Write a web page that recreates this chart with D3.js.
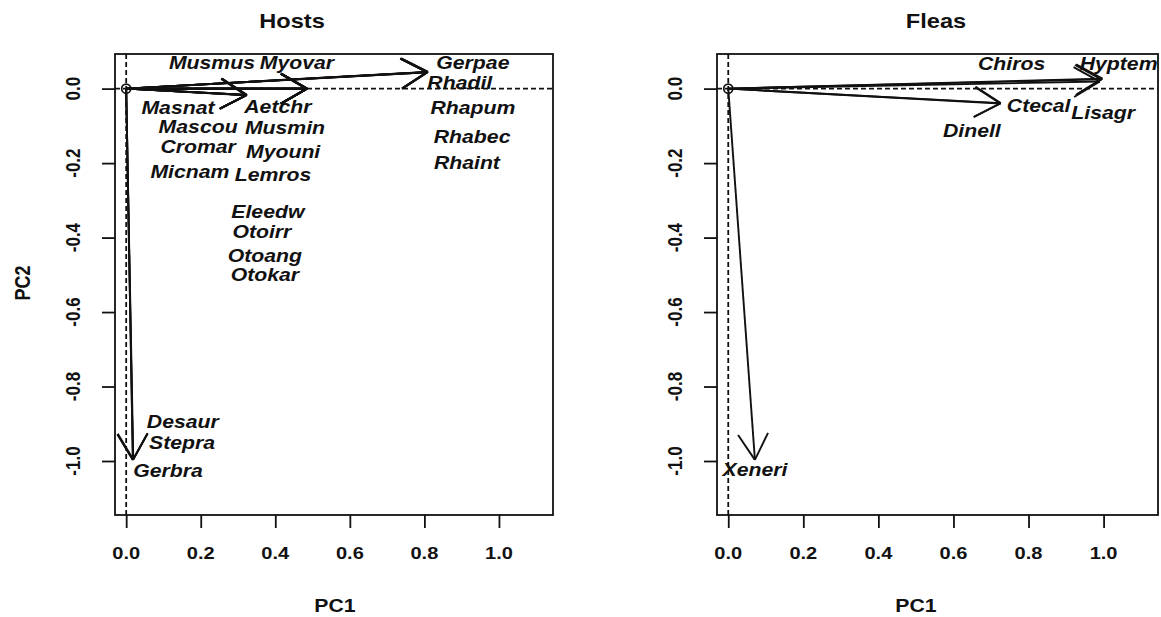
<!DOCTYPE html>
<html>
<head>
<meta charset="utf-8">
<script src="https://cdn.jsdelivr.net/npm/d3@7"></script>
<style>
  body { margin: 0; background: #fff; }
  svg { display: block; font-family: "Liberation Sans", Arial, sans-serif; }
</style>
</head>
<body>
<svg id="chart" width="1161" height="617"></svg>
<script>
// Hosts: arrow tips (loadings) and label positions, in PC units
const hostNames = ["Musmus", "Myovar", "Gerpae", "Rhadil", "Masnat", "Aetchr", "Rhapum", "Mascou",
    "Musmin", "Rhabec", "Cromar", "Myouni", "Rhaint", "Micnam", "Lemros", "Eleedw", "Otoirr",
    "Otoang", "Otokar", "Desaur", "Stepra", "Gerbra"];
const hostPC1 = [0.324, 0.485, 0.81, 0.808, 0.322, 0.484, 0.807, 0.323, 0.485, 0.808, 0.324, 0.485,
    0.807, 0.323, 0.484, 0.485, 0.485, 0.485, 0.485, 0.019, 0.018, 0.018];
const hostPC2 = [-0.017, 0.0, 0.045, 0.044, -0.018, -0.001, 0.044, -0.017, 0.0, 0.045, -0.017, 0.0,
    0.044, -0.017, 0.0, 0.0, 0.0, 0.0, 0.0, -0.996, -0.997, -0.997];
const hostLabelPC1 = [0.23, 0.458, 0.93, 0.895, 0.139, 0.407, 0.93, 0.193, 0.426, 0.928, 0.193, 0.421,
    0.914, 0.171, 0.394, 0.38, 0.364, 0.372, 0.372, 0.152, 0.15, 0.112];
const hostLabelPC2 = [0.069, 0.069, 0.069, 0.015, -0.052, -0.049, -0.052, -0.103, -0.106, -0.13, -0.157,
    -0.17, -0.2, -0.224, -0.232, -0.331, -0.385, -0.45, -0.5, -0.895, -0.952, -1.027];

// Fleas
const fleaNames = ["Chiros", "Hyptem", "Ctecal", "Lisagr", "Dinell", "Xeneri"];
const fleaPC1 = [0.997, 0.994, 0.726, 0.99, 0.725, 0.071];
const fleaPC2 = [0.027, 0.025, -0.039, 0.019, -0.04, -0.997];
const fleaLabelPC1 = [0.755, 1.04, 0.827, 0.999, 0.649, 0.071];
const fleaLabelPC2 = [0.067, 0.067, -0.046, -0.064, -0.113, -1.024];

const xTicks = [0, 0.2, 0.4, 0.6, 0.8, 1.0];
const yTicks = [0, -0.2, -0.4, -0.6, -0.8, -1.0];
const xDomain = [-0.03, 1.145];
const yDomain = [-1.145, 0.093];

const svg = d3.select("#chart");
const sx = 1.18; // the figure is a little wider than tall, text too
const ink = "#111";

function stretchedText(g, x, y, str, size, opts = {}) {
    const t = g.append("text")
        .attr("transform", `translate(${x},${y}) scale(${sx},1)` + (opts.rotate ? " rotate(-90)" : ""))
        .attr("text-anchor", "middle")
        .attr("dy", "0.35em")
        .attr("font-size", size)
        .attr("font-weight", "bold")
        .attr("fill", ink)
        .text(str);
    if (opts.italic) t.attr("font-style", "italic");
    return t;
}

function drawPanel(p) {
    const g = svg.append("g");
    const x = d3.scaleLinear().domain(xDomain).range([p.left, p.right]);
    const y = d3.scaleLinear().domain(yDomain).range([p.bottom, p.top]);

    // axes
    const xAxis = d3.axisBottom(x).tickValues(xTicks).tickSize(13).tickFormat(() => "");
    const yAxis = d3.axisLeft(y).tickValues(yTicks).tickSize(13).tickFormat(() => "");
    const ax = g.append("g").attr("transform", `translate(0,${p.bottom})`).call(xAxis);
    const ay = g.append("g").attr("transform", `translate(${p.left},0)`).call(yAxis);
    [ax, ay].forEach((a) => {
        a.select(".domain").remove();
        a.selectAll("line").attr("stroke", ink).attr("stroke-width", 1.8);
    });
    xTicks.forEach((d) => stretchedText(g, x(d), p.bottom + 38, d.toFixed(1), 17));
    yTicks.forEach((d) => stretchedText(g, p.left - 42, y(d), d.toFixed(1), 17, { rotate: true }));

    // reference lines
    g.append("line")
        .attr("x1", p.left).attr("x2", p.right).attr("y1", y(0)).attr("y2", y(0))
        .attr("stroke", ink).attr("stroke-width", 1.8).attr("stroke-dasharray", "5,3");
    g.append("line")
        .attr("x1", x(0)).attr("x2", x(0)).attr("y1", p.top).attr("y2", p.bottom)
        .attr("stroke", ink).attr("stroke-width", 1.8).attr("stroke-dasharray", "5,3");

    // arrows
    const headLen = 30;
    const headAng = Math.PI / 6;
    const arrows = g.append("g").attr("stroke", ink).attr("stroke-width", 1.9).attr("fill", "none");
    p.pc1.forEach((v, i) => {
        const x0 = x(0), y0 = y(0), x1 = x(v), y1 = y(p.pc2[i]);
        const a = Math.atan2(y1 - y0, x1 - x0);
        arrows.append("line").attr("x1", x0).attr("y1", y0).attr("x2", x1).attr("y2", y1);
        [-headAng, headAng].forEach((da) => {
            arrows.append("line")
                .attr("x1", x1).attr("y1", y1)
                .attr("x2", x1 - headLen * Math.cos(a + da))
                .attr("y2", y1 - headLen * Math.sin(a + da));
        });
    });
    g.append("circle")
        .attr("cx", x(0)).attr("cy", y(0)).attr("r", 4.5)
        .attr("fill", "none").attr("stroke", ink).attr("stroke-width", 1.7);

    // species labels
    p.names.forEach((n, i) => {
        stretchedText(g, x(p.lx[i]), y(p.ly[i]), n, 18, { italic: true });
    });

    // box
    g.append("rect")
        .attr("x", p.left).attr("y", p.top)
        .attr("width", p.right - p.left).attr("height", p.bottom - p.top)
        .attr("fill", "none").attr("stroke", ink).attr("stroke-width", 1.8);

    // titles
    stretchedText(g, p.titleX, 21, p.title, 20);
    stretchedText(g, p.pcX, 606, "PC1", 18);
    if (p.showPC2) stretchedText(g, 23, 283, "PC2", 18, { rotate: true });
}

drawPanel({
    left: 115, right: 553, top: 54, bottom: 515,
    names: hostNames, pc1: hostPC1, pc2: hostPC2, lx: hostLabelPC1, ly: hostLabelPC2,
    title: "Hosts", titleX: 292, pcX: 335, showPC2: true
});
drawPanel({
    left: 717, right: 1158, top: 54, bottom: 515,
    names: fleaNames, pc1: fleaPC1, pc2: fleaPC2, lx: fleaLabelPC1, ly: fleaLabelPC2,
    title: "Fleas", titleX: 936, pcX: 916, showPC2: false
});
</script>
</body>
</html>
